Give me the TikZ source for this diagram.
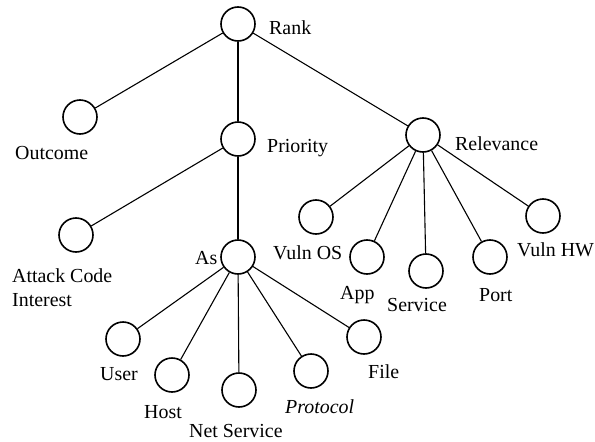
\documentclass[tikz,border=0pt]{standalone}
\usepackage{fontspec}
\setmainfont{Liberation Serif}
\begin{document}
\begin{tikzpicture}[x=1pt,y=-1pt,
  vertex/.style={draw, circle, minimum size=34pt, inner sep=0pt, line width=1.6pt},
  edge/.style={line width=1.1pt},
  lbl/.style={anchor=base west, inner sep=0pt, font=\fontsize{19.9}{24}\selectfont}]
\useasboundingbox (0,0) rectangle (595,442);

% tree vertices
\node[vertex] (rank)      at (238,24)  {};
\node[vertex] (outcome)   at (80,117)  {};
\node[vertex] (priority)  at (238,139) {};
\node[vertex] (relevance) at (423,135) {};
\node[vertex] (attack)    at (76,235)  {};
\node[vertex] (as)        at (238,257) {};
\node[vertex] (vulnos)    at (316,217) {};
\node[vertex] (app)       at (367,257) {};
\node[vertex] (service)   at (426,271) {};
\node[vertex] (port)      at (490,257) {};
\node[vertex] (vulnhw)    at (543,216) {};
\node[vertex] (user)      at (123,339) {};
\node[vertex] (host)      at (172,375) {};
\node[vertex] (netsvc)    at (239,390) {};
\node[vertex] (protocol)  at (311,371) {};
\node[vertex] (file)      at (364,337) {};

% labels
\node[lbl] (lrank)      at (269,34)  {Rank};
\node[lbl] (loutcome)   at (15,159)  {Outcome};
\node[lbl] (lpriority)  at (267,152) {Priority};
\node[lbl] (lrelevance) at (455,150) {Relevance};
\node[lbl] (lattack1)   at (12,282)  {Attack Code};
\node[lbl] (lattack2)   at (12,306)  {Interest};
\node[lbl] (las)        at (195,264) {As};
\node[lbl] (lvulnos)    at (273,259) {Vuln OS};
\node[lbl] (lapp)       at (340,299) {App};
\node[lbl] (lservice)   at (387,311) {Service};
\node[lbl] (lport)      at (479,301) {Port};
\node[lbl] (lvulnhw)    at (517,256) {Vuln HW};
\node[lbl] (luser)      at (100,380) {User};
\node[lbl] (lhost)      at (144,418) {Host};
\node[lbl] (lnetsvc)    at (189,437) {Net Service};
\node[lbl] (lprotocol)  at (285,413) {\itshape Protocol};
\node[lbl] (lfile)      at (368,378) {File};

% connectors
\draw[edge] (rank) -- (outcome);
\draw[edge] (rank) -- (priority);
\draw[edge] (rank) -- (relevance);
\draw[edge] (priority) -- (attack);
\draw[edge] (priority) -- (as);
\foreach \c in {vulnos,app,service,port,vulnhw}
  \draw[edge] (relevance) -- (\c);
\foreach \c in {user,host,netsvc,protocol,file}
  \draw[edge] (as) -- (\c);
\end{tikzpicture}
\end{document}
